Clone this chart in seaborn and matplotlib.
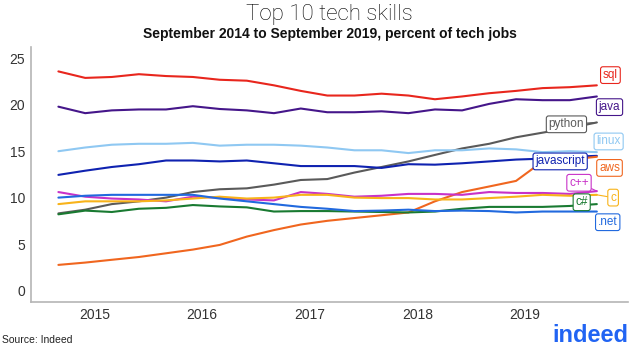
import pandas as pd
import numpy as np
import matplotlib
matplotlib.use("Agg")
import matplotlib.pyplot as plt
import matplotlib.dates as mdates
import seaborn as sns

# quarterly readings, Sept 2014 .. Sept 2019
dates = pd.date_range("2014-09-01", "2019-09-01", freq="3MS")

sql = [23.6, 22.9, 23.0, 23.3, 23.1, 23.0, 22.7, 22.6, 22.1, 21.5, 21.0,
       21.0, 21.2, 21.0, 20.6, 20.9, 21.25, 21.5, 21.8, 21.9, 22.1]
java = [19.8, 19.1, 19.4, 19.5, 19.5, 19.85, 19.55, 19.4, 19.1, 19.6, 19.2,
        19.2, 19.3, 19.1, 19.5, 19.4, 20.1, 20.6, 20.5, 20.5, 20.9]
python = [8.3, 8.7, 9.3, 9.6, 10.0, 10.6, 10.9, 11.0, 11.4, 11.9, 12.0,
          12.7, 13.3, 13.9, 14.6, 15.3, 15.8, 16.5, 17.0, 17.5, 18.1]
linux = [15.0, 15.4, 15.7, 15.8, 15.8, 15.9, 15.6, 15.7, 15.7, 15.6, 15.4,
         15.1, 15.1, 14.8, 15.1, 15.1, 15.3, 15.2, 14.9, 15.0, 14.9]
javascript = [12.45, 12.9, 13.3, 13.6, 14.0, 14.0, 13.9, 14.0, 13.7, 13.4, 13.4,
              13.4, 13.2, 13.6, 13.55, 13.7, 13.9, 14.1, 14.2, 14.4, 14.5]
aws = [2.75, 3.0, 3.3, 3.6, 4.0, 4.4, 4.9, 5.8, 6.5, 7.1, 7.5,
       7.8, 8.1, 8.4, 9.6, 10.6, 11.2, 11.8, 13.9, 14.1, 14.4]
cpp = [10.6, 10.1, 9.9, 9.8, 9.6, 10.1, 10.0, 9.8, 9.7, 10.6, 10.4,
       10.1, 10.2, 10.4, 10.4, 10.3, 10.6, 10.5, 10.5, 10.4, 10.7]
c = [9.3, 9.6, 9.6, 9.6, 9.7, 9.9, 10.1, 9.9, 10.0, 10.3, 10.3,
     10.0, 9.95, 9.95, 9.8, 9.8, 9.95, 10.1, 10.3, 10.2, 10.3]
csharp = [8.2, 8.6, 8.45, 8.8, 8.9, 9.2, 9.05, 8.95, 8.5, 8.55, 8.55,
          8.5, 8.45, 8.4, 8.5, 8.8, 9.0, 9.0, 9.0, 9.1, 9.3]
dotnet = [10.0, 10.2, 10.3, 10.3, 10.3, 10.3, 9.9, 9.6, 9.3, 9.0, 8.8,
          8.55, 8.6, 8.7, 8.55, 8.6, 8.55, 8.4, 8.5, 8.5, 8.5]

skills = {"sql": sql, "java": java, "python": python, "linux": linux,
          "javascript": javascript, "aws": aws, "c++": cpp, "c": c,
          "c#": csharp, ".net": dotnet}

colors = {"sql": "#e8261d", "java": "#45168a", "python": "#5a5a5a",
          "linux": "#8fc8f2", "javascript": "#0f22b0", "aws": "#f0661f",
          "c++": "#c832c8", "c": "#f8b31a", "c#": "#197a31", ".net": "#2169de"}

# label spots (months after Sept 2014, value) and whether a leader line is drawn
label_pos = {"sql": (61.5, 23.2), "java": (61.4, 19.75), "python": (56.6, 17.9),
             "linux": (61.3, 16.05), "javascript": (55.9, 13.9), "aws": (61.4, 13.2),
             "c++": (58.0, 11.6), "c": (61.8, 10.0), "c#": (58.3, 9.5),
             ".net": (61.2, 7.35)}
leaders = ["python", "c++", "c"]

df = pd.concat([pd.DataFrame({"date": dates, "skill": k, "pct": v})
                for k, v in skills.items()])

sns.set_style("white")
plt.rcParams["font.family"] = ["Liberation Sans", "DejaVu Sans"]

fig = plt.figure(figsize=(6.38, 3.52), dpi=100)
ax = fig.add_axes([0.049, 0.142, 0.935, 0.725])

sns.lineplot(data=df, x="date", y="pct", hue="skill", palette=colors,
             linewidth=1.5, legend=False, ax=ax)

start = mdates.date2num(dates[0])
for k, (m, yv) in label_pos.items():
    xt = start + m * 30.44
    arrow = None
    if k in leaders:
        arrow = dict(arrowstyle="-", color=colors[k], lw=0.8,
                     shrinkA=0, shrinkB=0)
    ax.annotate(k, xy=(mdates.date2num(dates[-1]), skills[k][-1]),
                xytext=(xt, yv), ha="center", va="center", fontsize=8.5,
                color=colors[k], arrowprops=arrow,
                bbox=dict(boxstyle="round,pad=0.2,rounding_size=0.2",
                          fc="white", ec=colors[k], lw=0.8))

ax.set_xlim(pd.Timestamp("2014-06-01"), pd.Timestamp("2019-12-15"))
ax.set_ylim(-1.25, 26.25)
ax.set_yticks([0, 5, 10, 15, 20, 25])
ax.xaxis.set_major_locator(mdates.YearLocator())
ax.xaxis.set_major_formatter(mdates.DateFormatter("%Y"))
ax.set_xlabel("")
ax.set_ylabel("")

for s in ["top", "right"]:
    ax.spines[s].set_visible(False)
for s in ["left", "bottom"]:
    ax.spines[s].set_color("#b5b5b5")
    ax.spines[s].set_linewidth(1.2)
ax.tick_params(axis="both", length=2.5, width=0.8, color="#b5b5b5",
               labelsize=10, labelcolor="#333333", pad=2)

fig.text(0.517, 0.958, "Top 10 tech skills", ha="center", va="center",
         fontsize=16, fontweight="light", color="black",
         family=["Roboto", "Liberation Sans"])
fig.text(0.517, 0.902, "September 2014 to September 2019, percent of tech jobs",
         ha="center", va="center", fontsize=10, fontweight="bold", color="#111111")
fig.text(0.003, 0.02, "Source: Indeed", ha="left", va="bottom",
         fontsize=7.5, color="#222222")
fig.text(0.985, 0.015, "indeed", ha="right", va="bottom", fontsize=17,
         fontweight="bold", color="#2164f3")

fig.savefig("out.png", dpi=100)
